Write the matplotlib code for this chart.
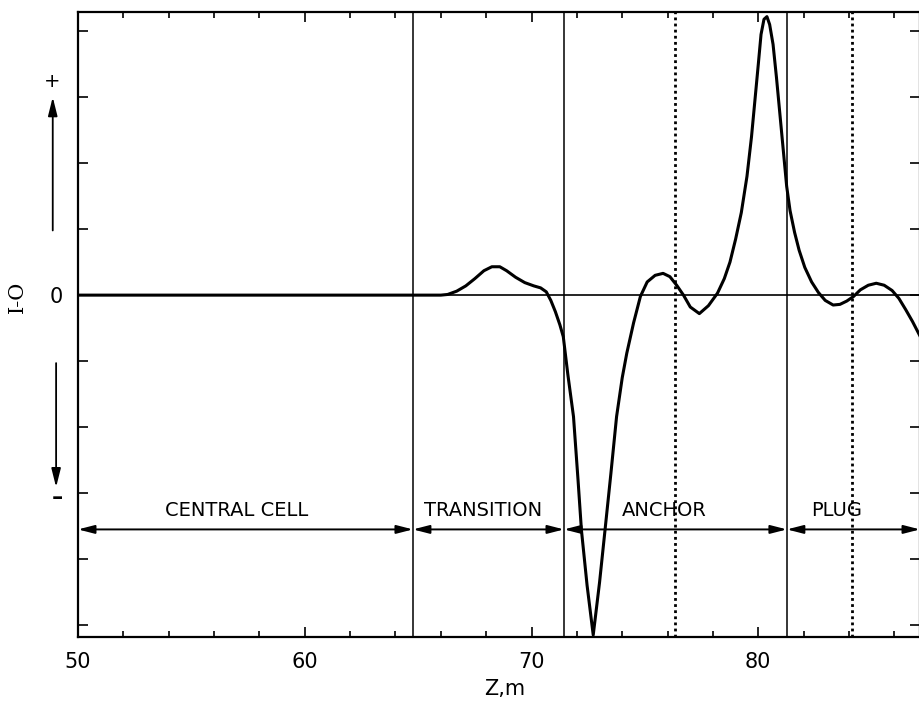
import matplotlib
matplotlib.use('Agg')
import matplotlib.pyplot as plt
import matplotlib.transforms as mtransforms
from matplotlib.ticker import MultipleLocator

# Curve (Z in m, potential in tick units)
z = [50.0, 66.0, 66.3, 66.7, 67.1, 67.5, 67.9, 68.25, 68.6, 68.9, 69.3, 69.7,
     70.1, 70.4, 70.65, 70.85, 71.05, 71.25, 71.4, 71.6, 71.85, 72.05, 72.2,
     72.45, 72.72, 73.0, 73.24, 73.5, 73.75, 74.0, 74.2, 74.5, 74.8, 75.1,
     75.45, 75.8, 76.1, 76.4, 76.7, 77.0, 77.4, 77.8, 78.2, 78.5, 78.75, 79.0,
     79.25, 79.5, 79.7, 79.85, 80.0, 80.12, 80.25, 80.38, 80.5, 80.65, 80.8,
     80.95, 81.1, 81.25, 81.4, 81.6, 81.8, 82.05, 82.35, 82.65, 82.95, 83.3,
     83.6, 83.9, 84.2, 84.5, 84.85, 85.2, 85.55, 85.9, 86.2, 86.5, 86.8, 87.13]
phi = [0.0, 0.0, 0.01, 0.06, 0.14, 0.25, 0.37, 0.43, 0.43, 0.37, 0.27, 0.19,
       0.14, 0.11, 0.05, -0.08, -0.25, -0.45, -0.63, -1.2, -1.84, -2.8, -3.56,
       -4.4, -5.15, -4.35, -3.56, -2.7, -1.84, -1.25, -0.88, -0.42, -0.02, 0.2,
       0.3, 0.33, 0.28, 0.15, 0.0, -0.18, -0.28, -0.16, 0.03, 0.25, 0.5, 0.85,
       1.25, 1.8, 2.4, 2.95, 3.5, 3.95, 4.18, 4.22, 4.1, 3.8, 3.3,
       2.75, 2.2, 1.65, 1.28, 0.95, 0.68, 0.42, 0.2, 0.04, -0.08, -0.15,
       -0.14, -0.09, -0.02, 0.08, 0.15, 0.18, 0.15, 0.07, -0.05, -0.22, -0.4, -0.62]

# Regioes
boundaries = [64.77, 71.43, 81.26]
dotted = [76.32, 84.13]
regions = ['CENTRAL CELL', 'TRANSITION', 'ANCHOR', 'PLUG']
region_start = [50.0, 64.77, 71.43, 81.26]
region_end = [64.77, 71.43, 81.26, 87.13]
region_label_x = [57.0, 67.85, 75.84, 83.47]

xticks = [50, 60, 70, 80]
yticks = [-5, -4, -3, -2, -1, 0, 1, 2, 3, 4]
ytick_labels = ['', '', '', '', '', '0', '', '', '', '']

fig = plt.figure(figsize=(9.19, 7.03), dpi=100)
ax = fig.add_axes([78/919, 66/703, 842/919, 625/703])
ax.set_xlim(50, 87.13)
ax.set_ylim(-5.18, 4.29)

ax.axhline(0, color='k', lw=1.2)
for b in boundaries:
    ax.axvline(b, color='k', lw=1.1)
for d in dotted:
    ax.axvline(d, color='k', lw=2, linestyle=(0, (1, 1.2)))

ax.plot(z, phi, color='k', lw=2.2, solid_joinstyle='round')

# Setas das regioes
y_arrow = -3.55
for nome, a, b, xl in zip(regions, region_start, region_end, region_label_x):
    ax.annotate('', xy=(b, y_arrow), xytext=(a, y_arrow),
                arrowprops=dict(arrowstyle='<|-|>,head_length=0.7,head_width=0.18',
                                color='k', lw=1.4, shrinkA=0, shrinkB=0,
                                mutation_scale=14))
    ax.text(xl, -3.27, nome, ha='center', va='center', fontsize=14)

ax.set_xticks(xticks)
ax.set_xticklabels([str(t) for t in xticks])
ax.xaxis.set_minor_locator(MultipleLocator(2))
ax.set_yticks(yticks)
ax.set_yticklabels(ytick_labels)
ax.tick_params(which='both', direction='in', top=True, right=True,
               labelsize=15, pad=11, width=1.2)
ax.tick_params(which='major', length=7)
ax.tick_params(which='minor', length=4)
for s in ax.spines.values():
    s.set_linewidth(1.6)

ax.set_xlabel('Z,m', fontsize=15)
ax.xaxis.set_label_coords(0.507, -0.067)

# Marcas do eixo y (+ e -)
trans = mtransforms.blended_transform_factory(ax.transAxes, ax.transData)
ax.text(-0.031, 3.23, '+', transform=trans, ha='center', va='center', fontsize=14)
ax.annotate('', xy=(-0.030, 3.0), xytext=(-0.030, 0.98), xycoords=trans,
            textcoords=trans, annotation_clip=False,
            arrowprops=dict(arrowstyle='-|>,head_length=0.8,head_width=0.2',
                            color='k', lw=1.3, shrinkA=0, shrinkB=0, mutation_scale=14))
ax.text(-0.025, -3.08, '–', transform=trans, ha='center', va='center',
        fontsize=16, fontweight='bold')
ax.annotate('', xy=(-0.026, -2.91), xytext=(-0.026, -1.03), xycoords=trans,
            textcoords=trans, annotation_clip=False,
            arrowprops=dict(arrowstyle='-|>,head_length=0.8,head_width=0.2',
                            color='k', lw=1.3, shrinkA=0, shrinkB=0, mutation_scale=14))

fig.text(17/919, 1 - 297/703, 'I-O', rotation=90, family='DejaVu Serif',
         fontsize=15, ha='center', va='center')

fig.savefig('out.png', dpi=100)
